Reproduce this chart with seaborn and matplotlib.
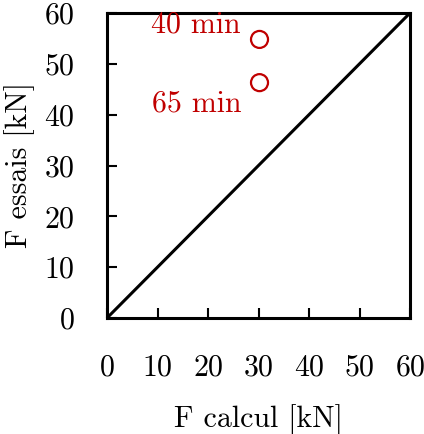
import matplotlib
matplotlib.use("Agg")
import matplotlib.pyplot as plt
import seaborn as sns
import pandas as pd

# Données
f_calcul = [30.2, 30.2]
f_essais = [54.8, 46.3]
labels = ["40 min", "65 min"]
diag = [0, 60]
ticks = [0, 10, 20, 30, 40, 50, 60]

sns.set_style("ticks")
plt.rcParams['font.family'] = ['cmr10', 'DejaVu Serif']
plt.rcParams['axes.formatter.use_mathtext'] = True
plt.rcParams['mathtext.fontset'] = 'cm'
plt.rcParams['text.color'] = 'black'
plt.rcParams['axes.labelcolor'] = 'black'
plt.rcParams['xtick.color'] = 'black'
plt.rcParams['ytick.color'] = 'black'

rouge = "#c00000"

fig = plt.figure(figsize=(4.24, 4.34), dpi=100)
ax = fig.add_axes([107 / 424, 1 - 318 / 434, 303 / 424, 305 / 434])

sns.lineplot(x=diag, y=diag, color="black", linewidth=2.2, ax=ax)
df = pd.DataFrame({"calcul": f_calcul, "essais": f_essais})
sns.scatterplot(data=df, x="calcul", y="essais", marker="o", s=150,
                facecolor="none", edgecolor=rouge, linewidth=1.6, ax=ax, zorder=3)

ax.text(26.4, 57.6, labels[0], color=rouge, fontsize=21.5, ha="right", va="center")
ax.text(26.6, 42.2, labels[1], color=rouge, fontsize=21.5, ha="right", va="center")

ax.set_xlim(0, 60)
ax.set_ylim(0, 60)
ax.set_xticks(ticks)
ax.set_yticks(ticks)
ax.tick_params(axis="both", direction="in", length=7, width=1.5, labelsize=21.5,
               bottom=True, left=True, top=False, right=False)
ax.tick_params(axis="x", pad=26)
ax.tick_params(axis="y", pad=23)
for s in ax.spines.values():
    s.set_linewidth(2.2)
    s.set_color("black")

ax.set_xlabel("F calcul [kN]", fontsize=21.5, labelpad=16)
ax.set_ylabel("F essais [kN]", fontsize=21.5, labelpad=7)

fig.savefig("out.png", dpi=100)
